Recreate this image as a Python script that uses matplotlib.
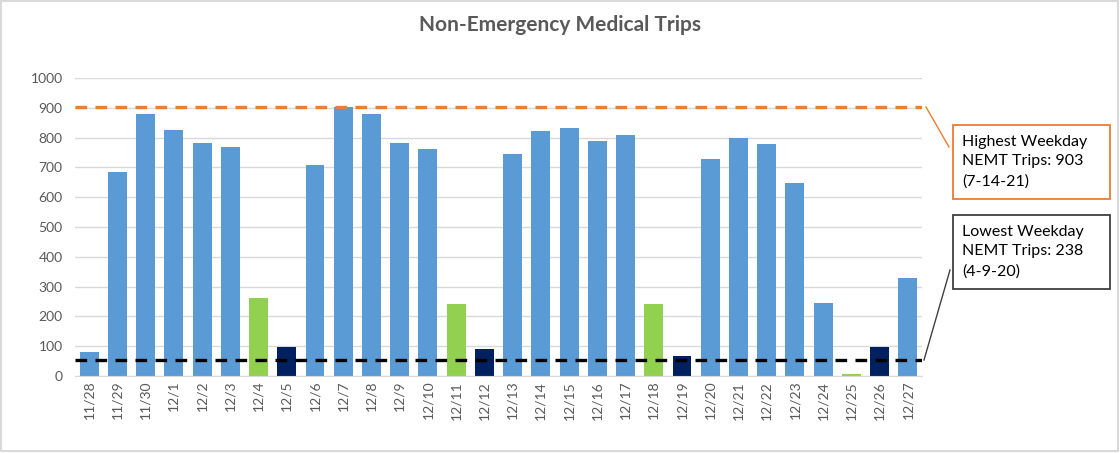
import matplotlib.pyplot as plt
from matplotlib.patches import Rectangle

plt.rcParams['font.family'] = ['Lato', 'DejaVu Sans']

# daily trip counts
dates = ['11/28', '11/29', '11/30', '12/1', '12/2', '12/3', '12/4', '12/5',
         '12/6', '12/7', '12/8', '12/9', '12/10', '12/11', '12/12', '12/13',
         '12/14', '12/15', '12/16', '12/17', '12/18', '12/19', '12/20',
         '12/21', '12/22', '12/23', '12/24', '12/25', '12/26', '12/27']
trips = [80, 685, 880, 825, 782, 768, 262, 97, 708, 903, 880, 782, 762, 242,
         91, 745, 822, 832, 789, 808, 242, 67, 728, 799, 778, 648, 245, 7,
         97, 330]
# day type: w = weekday, s = saturday, u = sunday
day_type = ['w', 'w', 'w', 'w', 'w', 'w', 's', 'u', 'w', 'w', 'w', 'w', 'w',
            's', 'u', 'w', 'w', 'w', 'w', 'w', 's', 'u', 'w', 'w', 'w', 'w',
            'w', 's', 'u', 'w']
high_ref = 903
low_ref = 55

colors = {'w': '#5B9BD5', 's': '#92D050', 'u': '#002060'}
gray = '#595959'

fig = plt.figure(figsize=(11.2, 4.53), dpi=100)
ax = fig.add_axes([75 / 1120, 1 - 376 / 453, (922 - 75) / 1120, (376 - 78) / 453])

x = range(len(dates))
ax.bar(x, trips, width=0.67, color=[colors[d] for d in day_type], zorder=2)
ax.axhline(high_ref, color='#ED7D31', lw=2.4, dashes=(3.5, 2.5), zorder=3)
ax.axhline(low_ref, color='black', lw=2.4, dashes=(3.5, 2.5), zorder=3)

ax.set_xlim(-0.5, len(dates) - 0.5)
ax.set_ylim(0, 1000)
ax.set_yticks(range(0, 1001, 100))
ax.set_xticks(list(x))
ax.set_xticklabels(dates, rotation=90)
ax.grid(axis='y', color='#D9D9D9', lw=1, zorder=0)
for s in ['top', 'right', 'left']:
    ax.spines[s].set_visible(False)
ax.spines['bottom'].set_color('#D9D9D9')
ax.tick_params(length=0, colors=gray, labelsize=10)
ax.tick_params(axis='y', pad=9)

fig.text(0.5, 1 - 25 / 453, 'Non-Emergency Medical Trips', ha='center',
         va='center', fontsize=15, fontweight='bold', color=gray)

# callout boxes
def callout(y0, y1, edge, text, p0, p1):
    fig.patches.append(Rectangle((953 / 1120, 1 - y1 / 453), (1110 - 953) / 1120,
                                 (y1 - y0) / 453, transform=fig.transFigure,
                                 fill=False, edgecolor=edge, lw=1.3))
    fig.text(962 / 1120, 1 - (y0 + 10) / 453, text, ha='left', va='top',
             fontsize=11.5, color='black', linespacing=1.5)
    fig.lines.append(plt.Line2D([p0[0] / 1120, p1[0] / 1120],
                                [1 - p0[1] / 453, 1 - p1[1] / 453],
                                transform=fig.transFigure, color=edge, lw=1))

callout(125, 199, '#ED7D31', 'Highest Weekday\nNEMT Trips: 903\n(7-14-21)',
        (926, 107), (949, 147))
callout(215, 289, '#404040', 'Lowest Weekday\nNEMT Trips: 238\n(4-9-20)',
        (924, 360), (950, 270))

# outer frame
fig.patches.append(Rectangle((0.001, 0.004), 0.997, 0.994, transform=fig.transFigure,
                             fill=False, edgecolor='#D9D9D9', lw=1.5))

fig.savefig('out.png', dpi=100)
